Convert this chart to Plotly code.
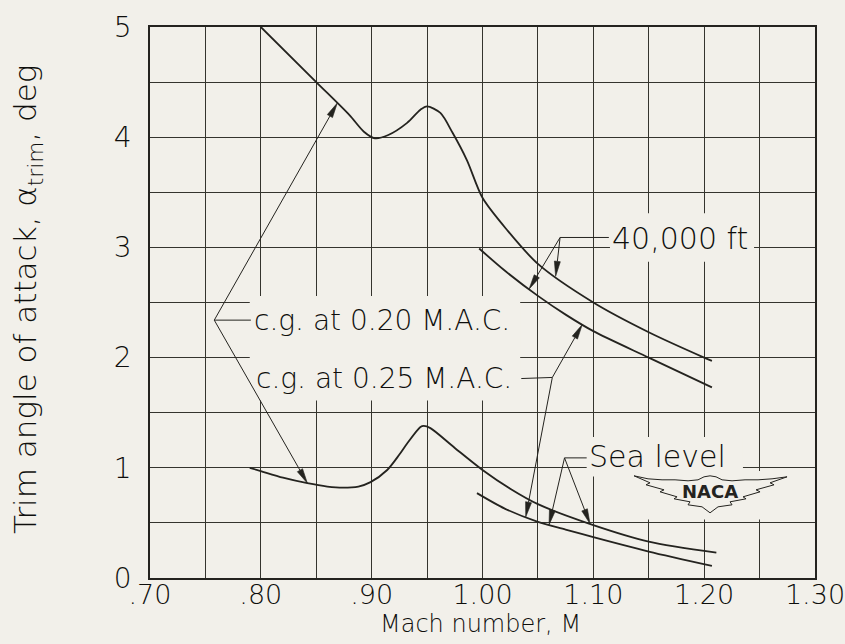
import numpy as np
import plotly.graph_objects as go

# ---- readings: trim angle of attack (deg) against Mach number ----
# c.g. at 0.20 M.A.C., 40,000 ft
mach_cg20_40k = [0.800, 0.850, 0.880, 0.893, 0.903, 0.915, 0.932, 0.944, 0.950, 0.962,
                 0.973, 0.986, 1.000, 1.022, 1.050, 1.100, 1.150, 1.200, 1.207]
alpha_cg20_40k = [5.00, 4.50, 4.20, 4.05, 3.99, 4.02, 4.13, 4.25, 4.28, 4.22,
                  4.04, 3.79, 3.45, 3.16, 2.85, 2.50, 2.23, 2.00, 1.97]

# c.g. at 0.25 M.A.C., 40,000 ft
mach_cg25_40k = [0.997, 1.020, 1.050, 1.075, 1.100, 1.150, 1.207]
alpha_cg25_40k = [2.99, 2.79, 2.56, 2.39, 2.24, 2.00, 1.73]

# c.g. at 0.20 M.A.C., sea level
mach_cg20_sl = [0.790, 0.800, 0.820, 0.842, 0.860, 0.874, 0.888, 0.899, 0.914, 0.925,
                0.932, 0.944, 0.947, 0.953, 0.975, 1.000, 1.025, 1.050, 1.100, 1.150, 1.211]
alpha_cg20_sl = [1.00, 0.97, 0.91, 0.86, 0.83, 0.82, 0.83, 0.87, 0.98, 1.12,
                 1.22, 1.37, 1.38, 1.36, 1.18, 0.98, 0.81, 0.67, 0.48, 0.33, 0.23]

# c.g. at 0.25 M.A.C., sea level
mach_cg25_sl = [0.995, 1.020, 1.050, 1.075, 1.100, 1.150, 1.207]
alpha_cg25_sl = [0.77, 0.63, 0.51, 0.44, 0.37, 0.24, 0.11]

# ---- axes ----
x_tickvals = [0.70, 0.80, 0.90, 1.00, 1.10, 1.20, 1.30]
x_ticktext = [".70", ".80", ".90", "1.00", "1.10", "1.20", "1.30"]
y_tickvals = [0, 1, 2, 3, 4, 5]
y_ticktext = ["0", "1", "2", "3", "4", "5"]

X_RANGE = (0.70, 1.30)
Y_RANGE = (0.0, 5.0)

FIG_W, FIG_H = 845, 644
MARGIN = dict(l=150, r=30, t=27, b=66)
PLOT_W = FIG_W - MARGIN["l"] - MARGIN["r"]
PLOT_H = FIG_H - MARGIN["t"] - MARGIN["b"]
SX = PLOT_W / (X_RANGE[1] - X_RANGE[0])   # px per Mach unit
SY = PLOT_H / (Y_RANGE[1] - Y_RANGE[0])   # px per degree

PAPER = "#f2f0ea"
INK = "#24231f"
TEXT_INK = "#0e0e0c"
GRID = "#35342e"
FONT = "DejaVu Sans"
WEIGHT = 300

fig = go.Figure()

for mx, ay in [(mach_cg20_40k, alpha_cg20_40k), (mach_cg25_40k, alpha_cg25_40k),
               (mach_cg20_sl, alpha_cg20_sl), (mach_cg25_sl, alpha_cg25_sl)]:
    fig.add_trace(go.Scatter(x=mx, y=ay, mode="lines",
                             line=dict(color=INK, width=1.8, shape="spline", smoothing=0.8),
                             hoverinfo="skip", showlegend=False))

shapes = []


def seg(p, q, w=1.0):
    shapes.append(dict(type="line", xref="x", yref="y", x0=p[0], y0=p[1], x1=q[0], y1=q[1],
                       line=dict(color=INK, width=w), layer="above"))


def arrow(tail, tip, head_len=15.0, head_half=3.0):
    """Leader line ending in a slender filled arrowhead (sizes in px)."""
    dx = (tip[0] - tail[0]) * SX
    dy = (tip[1] - tail[1]) * SY
    d = float(np.hypot(dx, dy))
    ux, uy = dx / d, dy / d
    nx, ny = -uy, ux
    bx = tip[0] - ux * head_len / SX
    by = tip[1] - uy * head_len / SY
    p1 = (bx + nx * head_half / SX, by + ny * head_half / SY)
    p2 = (bx - nx * head_half / SX, by - ny * head_half / SY)
    seg(tail, (bx, by))
    shapes.append(dict(type="path", xref="x", yref="y",
                       path=f"M{tip[0]},{tip[1]} L{p1[0]},{p1[1]} L{p2[0]},{p2[1]} Z",
                       fillcolor=INK, line=dict(color=INK, width=0.6), layer="above"))


def on_curve(mx, curve_m, curve_a):
    return (mx, float(np.interp(mx, curve_m, curve_a)))


def blank(x0, y0, x1, y1):
    """Paper-coloured patch that interrupts the grid behind lettering."""
    shapes.append(dict(type="rect", xref="x", yref="y", x0=x0, y0=y0, x1=x1, y1=y1,
                       fillcolor=PAPER, line=dict(width=0), layer="between"))


# gaps in the grid behind the labels
blank(0.790, 1.61, 1.034, 2.56)
blank(1.115, 2.87, 1.245, 3.31)
blank(1.094, 0.92, 1.235, 1.28)
blank(1.133, 0.53, 1.277, 0.97)

# c.g. at 0.20 M.A.C. -> both curves starting at M = 0.80
v20 = (0.758, 2.34)
seg(v20, (0.791, 2.34))
arrow(v20, on_curve(0.869, mach_cg20_40k, alpha_cg20_40k))
arrow(v20, on_curve(0.842, mach_cg20_sl, alpha_cg20_sl))

# c.g. at 0.25 M.A.C. -> both curves starting at M = 1.00
v25 = (1.063, 1.82)
seg((1.035, 1.81), v25)
arrow(v25, on_curve(1.090, mach_cg25_40k, alpha_cg25_40k))
arrow(v25, on_curve(1.039, mach_cg25_sl, alpha_cg25_sl))

# 40,000 ft
v40 = (1.070, 3.09)
seg(v40, (1.114, 3.09))
arrow(v40, on_curve(1.042, mach_cg25_40k, alpha_cg25_40k))
arrow(v40, on_curve(1.066, mach_cg20_40k, alpha_cg20_40k))

# Sea level
vsl = (1.074, 1.09)
seg(vsl, (1.094, 1.09))
arrow(vsl, on_curve(1.060, mach_cg25_sl, alpha_cg25_sl))
arrow(vsl, on_curve(1.097, mach_cg20_sl, alpha_cg20_sl))

# NACA wing emblem (outline given in px about its centre, y pointing down)
logo_c = (1.2053, 0.773)
wing_top = [(-76, -17), (-62, -14), (-48, -13), (-35, -13), (-22, -12), (-12, -13),
            (-6, -16), (0, -17), (6, -16), (12, -13), (22, -12), (35, -13), (48, -13),
            (62, -14), (77, -16)]
wing_bottom_right = [(60, -10), (64, -8), (46, -3), (50, -1), (33, 4), (36, 6),
                     (20, 9), (22, 12), (8, 14), (0, 20)]
wing_bottom_left = [(-x, y) for (x, y) in reversed(wing_bottom_right[:-1])]
outline = wing_top + wing_bottom_right + wing_bottom_left


def to_data(p):
    return (logo_c[0] + p[0] / SX, logo_c[1] - p[1] / SY)


pts = [to_data(p) for p in outline]
path = "M" + " L".join(f"{x:.5f},{y:.5f}" for x, y in pts) + " Z"
shapes.append(dict(type="path", xref="x", yref="y", path=path, fillcolor=PAPER,
                   line=dict(color=INK, width=1.0), layer="above"))

annotations = [
    dict(x=0.793, y=2.34, text="c.g. at 0.20 M.A.C.", xanchor="left", yanchor="middle"),
    dict(x=0.795, y=1.81, text="c.g. at 0.25 M.A.C.", xanchor="left", yanchor="middle"),
    dict(x=1.116, y=3.08, text="40,000 ft", xanchor="left", yanchor="middle",
         font=dict(size=30)),
    dict(x=1.095, y=1.10, text="Sea level", xanchor="left", yanchor="middle",
         font=dict(size=30)),
]
for a in annotations:
    a.setdefault("font", dict(size=28))
    a["font"].update(family=FONT, color=TEXT_INK, weight=WEIGHT)
    a.update(xref="x", yref="y", showarrow=False, borderpad=0)

annotations.append(dict(x=logo_c[0], y=logo_c[1] + 1 / SY, xref="x", yref="y",
                        text="<b>NACA</b>", showarrow=False,
                        font=dict(family=FONT, size=18, color=INK)))

# axis titles
annotations.append(dict(x=(27 - MARGIN["l"]) / PLOT_W, y=(PLOT_H - 273) / PLOT_H,
                        xref="paper", yref="paper", xanchor="center", yanchor="middle",
                        text="Trim angle of attack, α<sub>trim</sub>, deg", textangle=-90,
                        showarrow=False,
                        font=dict(family=FONT, size=31, color=TEXT_INK, weight=WEIGHT)))
annotations.append(dict(x=(480 - MARGIN["l"]) / PLOT_W, y=(PLOT_H - 597) / PLOT_H,
                        xref="paper", yref="paper", xanchor="center", yanchor="middle",
                        text="Mach number, M", showarrow=False,
                        font=dict(family=FONT, size=24, color=TEXT_INK, weight=WEIGHT)))

axis_common = dict(showline=True, mirror=True, linecolor=INK, linewidth=1.6,
                   showgrid=True, gridcolor=GRID, gridwidth=1.2, zeroline=False,
                   ticks="", ticklabeloverflow="allow", automargin=False, fixedrange=True)

fig.update_layout(
    width=FIG_W, height=FIG_H, margin=dict(MARGIN, autoexpand=False),
    paper_bgcolor=PAPER, plot_bgcolor=PAPER,
    xaxis=dict(range=list(X_RANGE), tickmode="array", tickvals=x_tickvals,
               ticktext=x_ticktext, ticklabelstandoff=-8,
               tickfont=dict(family=FONT, size=27, color=TEXT_INK, weight=WEIGHT),
               minor=dict(tick0=0.70, dtick=0.05, showgrid=True, gridcolor=GRID,
                          gridwidth=1.2, ticks=""),
               **axis_common),
    yaxis=dict(range=list(Y_RANGE), tickmode="array", tickvals=y_tickvals,
               ticktext=y_ticktext, ticklabelstandoff=11,
               tickfont=dict(family=FONT, size=28, color=TEXT_INK, weight=WEIGHT),
               minor=dict(tick0=0, dtick=0.5, showgrid=True, gridcolor=GRID,
                          gridwidth=1.2, ticks=""),
               **axis_common),
    shapes=shapes, annotations=annotations, showlegend=False,
)

fig.write_html("out.html")
